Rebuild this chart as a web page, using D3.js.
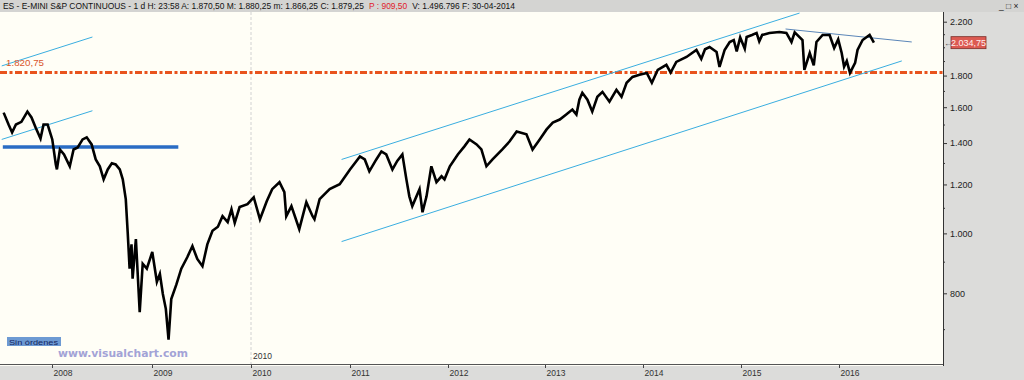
<!DOCTYPE html>
<html><head><meta charset="utf-8">
<script src="https://cdn.jsdelivr.net/npm/d3@7"></script>
<style>html,body{margin:0;padding:0;background:#fff;} svg{display:block}</style>
</head><body><svg id="c" width="1024" height="380"></svg>
<script>
// ---------------- DATA ----------------
const priceDates = ["2007-07-08","2007-07-26","2007-08-08","2007-08-22","2007-09-11","2007-10-03","2007-10-18","2007-11-02","2007-11-20","2007-12-01","2007-12-16",
"2008-01-02","2008-01-15","2008-01-19","2008-01-30","2008-02-14","2008-03-06","2008-03-20","2008-04-04","2008-04-22","2008-05-07","2008-05-25","2008-06-09","2008-06-24","2008-07-08","2008-07-23","2008-08-07","2008-08-21","2008-09-05","2008-09-16","2008-09-27","2008-10-04","2008-10-11","2008-10-18","2008-10-22","2008-11-03","2008-11-17","2008-11-28","2008-12-13",
"2009-01-02","2009-01-19","2009-01-30","2009-02-10","2009-02-21","2009-03-03","2009-03-13","2009-04-01","2009-04-19","2009-05-11","2009-05-30","2009-06-17","2009-07-06","2009-07-24","2009-08-12","2009-09-01","2009-09-18","2009-10-07","2009-10-21","2009-11-02","2009-11-20","2009-12-19",
"2010-01-11","2010-02-03","2010-02-28","2010-03-20","2010-04-16","2010-05-04","2010-05-11","2010-05-30","2010-06-28","2010-07-24","2010-08-16","2010-08-23","2010-09-11","2010-10-18","2010-11-24",
"2011-01-01","2011-02-07","2011-02-25","2011-03-14","2011-04-09","2011-04-28","2011-05-16","2011-06-08","2011-06-26","2011-07-15","2011-07-30","2011-08-10","2011-08-21","2011-09-17","2011-09-28","2011-10-13","2011-10-31","2011-11-19","2011-12-08","2011-12-19",
"2012-01-08","2012-02-07","2012-03-03","2012-03-22","2012-04-18","2012-05-06","2012-05-25","2012-06-17","2012-07-24","2012-08-20","2012-09-16","2012-10-23","2012-11-15","2012-12-12",
"2013-01-07","2013-01-30","2013-02-25","2013-03-21","2013-04-13","2013-04-28","2013-05-09","2013-05-20","2013-06-08","2013-06-26","2013-07-15","2013-08-03","2013-08-29","2013-09-24","2013-10-13","2013-11-01","2013-11-23","2013-12-19",
"2014-01-15","2014-02-03","2014-02-25","2014-03-29","2014-04-14","2014-05-05","2014-06-12","2014-07-19","2014-08-06","2014-08-20","2014-09-06","2014-10-02","2014-10-13","2014-11-01","2014-11-20","2014-12-05","2014-12-16","2014-12-29",
"2015-01-15","2015-01-22","2015-02-11","2015-02-28","2015-03-10","2015-03-21","2015-04-17","2015-05-24","2015-06-19","2015-07-08","2015-07-20","2015-08-18","2015-08-25","2015-09-14","2015-09-29","2015-10-09","2015-11-01","2015-11-27","2015-12-14","2015-12-29",
"2016-01-11","2016-01-20","2016-01-30","2016-02-11","2016-03-01","2016-03-10","2016-03-29","2016-04-24","2016-05-10"];
const priceValues = [1568,1500,1456,1500,1515,1574,1540,1484,1424,1500,1500,
1419,1293,1269,1367,1342,1284,1367,1377,1419,1430,1393,1317,1284,1223,1269,1298,1293,1269,1223,1136,1005,877,960,845,979,746,893,877,
933,835,860,798,755,673,783,827,877,915,954,909,885,960,1010,1025,1066,1043,1094,1040,1103,1115,
1144,1054,1127,1179,1210,1166,1066,1107,1016,1123,1066,1054,1136,1179,1201,
1269,1332,1317,1260,1317,1357,1342,1269,1310,1342,1223,1148,1107,1179,1082,1148,1284,1210,1237,1223,
1284,1342,1383,1419,1393,1367,1284,1317,1367,1408,1462,1446,1367,1419,
1473,1511,1528,1557,1586,1557,1645,1688,1645,1574,1663,1694,1633,1707,1663,1752,1791,1805,
1818,1752,1839,1873,1820,1894,1929,1980,1915,1985,2002,1966,1859,1980,2040,2055,1970,2075,
1990,2078,2094,2110,2045,2094,2110,2117,2110,2040,2115,2055,1839,1958,1870,2040,2094,2094,1995,2060,
1958,1860,1900,1818,1887,1980,2055,2094,2034.75];

const yearLabels = ["2008","2009","2010","2011","2012","2013","2014","2015","2016"];
const yTickValues = [800,1000,1200,1400,1600,1800,2200];
const yMinorValues = [700,900,1100,1300,1500,1700,1900,2000,2100];
const lastPrice = 2034.75;
const supportLevel = 1820.75;
const blueLevel = 1379;
const blueLevelDates = ["2007-07-05","2009-04-08"];
const trendDates = [["2007-07-01","2008-05-28"],["2007-07-01","2008-05-28"],["2010-12-01","2015-08-07"],["2010-12-01","2016-08-22"],["2015-06-16","2016-09-28"]];
const trendValues = [[1866,2078],[1419,1579],[1317,2272],[970,1901],[2141,2040]];
const markerYear = "2010";
const headerParts = ["ES - E-MINI S&P CONTINUOUS - 1 d H: 23:58  A: 1.870,50  M: 1.880,25  m: 1.866,25  C: 1.879,25", "P : 909,50", "V: 1.496.796  F: 30-04-2014"];
const headerColors = ["#111", "#e0202a", "#111"];

// ---------------- LAYOUT ----------------
const W = 1024, H = 380;
const plot = {left: 0, right: 943, top: 12, bottom: 366};
const yearPx = [52,152,251,350,448,545,643,741,839];
const font = "'Liberation Sans', Arial, sans-serif";

const parse = d3.utcParse("%Y-%m-%d");
const yearDates = yearLabels.map(y => parse(y + "-01-01"));
const x = d3.scaleUtc().domain(yearDates).range(yearPx);
const y = d3.scaleLog().domain([800, 2200]).range([293.3, 21.7]);
const es = d3.formatLocale({decimal: ",", thousands: ".", grouping: [3], currency: ["", "€"]});
const fmtInt = es.format(",");
const fmt2 = es.format(",.2f");

const svg = d3.select("#c");

// backgrounds
svg.append("rect").attr("x",0).attr("y",0).attr("width",W).attr("height",H).attr("fill","#dcdcda");
svg.append("rect").attr("x",plot.left).attr("y",plot.top).attr("width",plot.right-plot.left).attr("height",plot.bottom-plot.top).attr("fill","#fffef6");

svg.append("defs").append("clipPath").attr("id","clip")
  .append("rect").attr("x",plot.left).attr("y",plot.top).attr("width",plot.right-plot.left).attr("height",plot.bottom-plot.top);
const g = svg.append("g").attr("clip-path","url(#clip)");

// 2010 dashed marker
const mx = x(parse(markerYear + "-01-01"));
g.append("line").attr("x1",mx).attr("x2",mx).attr("y1",plot.top).attr("y2",plot.bottom)
  .attr("stroke","#d2d2d2").attr("stroke-dasharray","3,2").attr("stroke-width",1);
svg.append("text").attr("x",mx+2).attr("y",plot.bottom-7).text(markerYear)
  .attr("font-family",font).attr("font-size",8.5).attr("fill","#333");

// support dash-dot line
g.append("line").attr("x1",plot.left).attr("x2",plot.right).attr("y1",y(supportLevel)).attr("y2",y(supportLevel))
  .attr("stroke","#e8531d").attr("stroke-width",3).attr("stroke-dasharray","7,2.5,3,2.5");

// blue level
g.append("line").attr("x1",x(parse(blueLevelDates[0]))).attr("x2",x(parse(blueLevelDates[1])))
  .attr("y1",y(blueLevel)).attr("y2",y(blueLevel))
  .attr("stroke","#2a6cc4").attr("stroke-width",3.5);

// trend lines
const trendColors = ["#3aaee0","#3aaee0","#3aaee0","#3aaee0","#5b86b8"];
trendDates.forEach((d,i) => {
  g.append("line")
    .attr("x1",x(parse(d[0]))).attr("y1",y(trendValues[i][0]))
    .attr("x2",x(parse(d[1]))).attr("y2",y(trendValues[i][1]))
    .attr("stroke",trendColors[i]).attr("stroke-width",1);
});

// price line
const pts = priceDates.map((d,i) => [parse(d), priceValues[i]]);
g.append("path").datum(pts)
  .attr("d", d3.line().x(d => x(d[0])).y(d => y(d[1])))
  .attr("fill","none").attr("stroke","#000").attr("stroke-width",2.6).attr("stroke-linejoin","miter");

// support label
svg.append("text").attr("x",6).attr("y",y(supportLevel)-6).text(fmt2(supportLevel))
  .attr("font-family",font).attr("font-size",9).attr("fill","#d9552a")
  .attr("textLength",38).attr("lengthAdjust","spacingAndGlyphs");

// right axis
const axR = svg.append("g").attr("transform",`translate(${plot.right},0)`)
  .call(d3.axisRight(y).tickValues(yTickValues).tickFormat(fmtInt).tickSize(4).tickPadding(3));
axR.select(".domain").remove();
axR.selectAll("line").attr("stroke","#333");
axR.selectAll("text").attr("font-family",font).attr("font-size",9).attr("fill","#222");
const axRm = svg.append("g").attr("transform",`translate(${plot.right},0)`)
  .call(d3.axisRight(y).tickValues(yMinorValues).tickFormat("").tickSize(2));
axRm.select(".domain").remove();
axRm.selectAll("line").attr("stroke","#333");
svg.append("line").attr("x1",plot.right+0.5).attr("x2",plot.right+0.5).attr("y1",plot.top).attr("y2",plot.bottom)
  .attr("stroke","#333").attr("stroke-width",1);

// bottom axis
svg.append("line").attr("x1",0).attr("x2",plot.right).attr("y1",plot.bottom-1.5).attr("y2",plot.bottom-1.5)
  .attr("stroke","#555").attr("stroke-width",1);
const axB = svg.append("g").attr("transform",`translate(0,${plot.bottom-1})`)
  .call(d3.axisBottom(x).tickValues(yearDates).tickFormat(d3.utcFormat("%Y")).tickSize(3));
axB.select(".domain").remove();
axB.selectAll("line").attr("stroke","#444");
axB.selectAll("text").attr("font-family",font).attr("font-size",8.5).attr("fill","#333")
  .attr("text-anchor","start").attr("x",1).attr("y",11).attr("dy",0);

// last price label
const ly = y(lastPrice);
svg.append("text").attr("x",944).attr("y",ly+3).text("←").attr("font-family",font).attr("font-size",8).attr("fill","#444");
svg.append("rect").attr("x",951).attr("y",ly-6).attr("width",35).attr("height",12)
  .attr("fill","#dc5a52").attr("stroke","#7a2f2a").attr("stroke-width",0.8);
svg.append("text").attr("x",968.5).attr("y",ly+3.5).attr("text-anchor","middle").text(fmt2(lastPrice))
  .attr("font-family",font).attr("font-size",9).attr("fill","#fff0ee");

// header
svg.append("rect").attr("x",0).attr("y",0).attr("width",W).attr("height",plot.top).attr("fill","#d4d4d2");
const gapPx = 5, headerWidth = 512;
const hTexts = headerParts.map((t,i) => svg.append("text").attr("y",9).text(t)
  .attr("font-family",font).attr("font-size",8.5).attr("fill",headerColors[i]));
const natural = hTexts.map(t => t.node().getComputedTextLength());
const scale = (headerWidth - gapPx*2) / d3.sum(natural);
let hx = 3;
hTexts.forEach((t,i) => {
  const w = natural[i]*scale;
  t.attr("x",hx).attr("textLength",w).attr("lengthAdjust","spacingAndGlyphs");
  hx += w + gapPx;
});
svg.append("text").attr("x",999).attr("y",9).text("_ □ ×").attr("font-family",font).attr("font-size",8.5).attr("fill","#222");

// Sin órdenes
svg.append("rect").attr("x",7).attr("y",337).attr("width",54).attr("height",9).attr("fill","#6d9ad3");
svg.append("text").attr("x",9).attr("y",344.5).text("Sin órdenes").attr("font-family",font).attr("font-size",8)
  .attr("fill","#14245e").attr("textLength",49).attr("lengthAdjust","spacingAndGlyphs");

// watermark
svg.append("text").attr("x",58).attr("y",357).text("www.visualchart.com")
  .attr("font-family","'DejaVu Sans', Verdana, sans-serif").attr("font-weight","bold").attr("font-size",11)
  .attr("fill","#a3a3d6").attr("textLength",130).attr("lengthAdjust","spacingAndGlyphs");
</script></body></html>
